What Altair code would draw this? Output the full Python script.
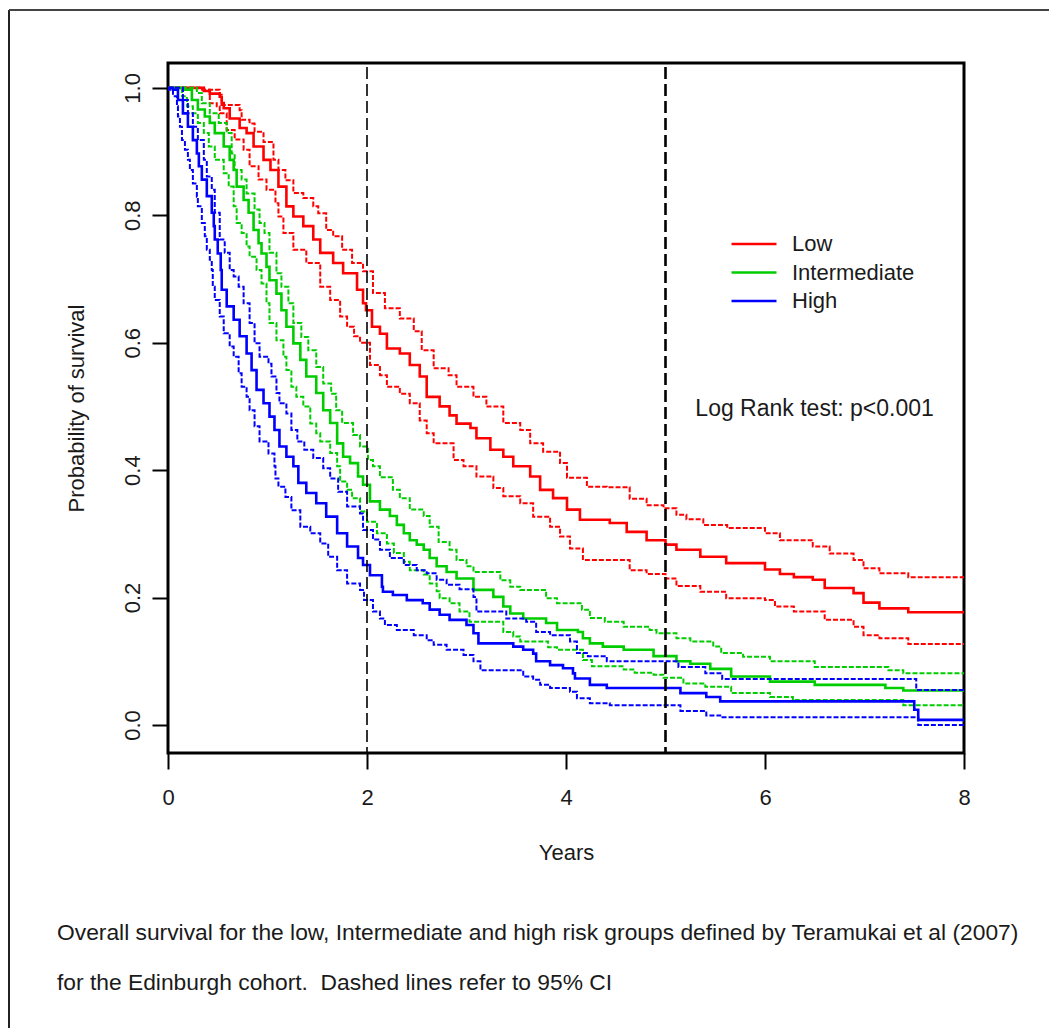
import altair as alt
import pandas as pd

GROUPS = ["Low", "Intermediate", "High"]
COLORS = ["#ff0000", "#00cd00", "#0000ff"]
X_TICKS = [0, 2, 4, 6, 8]
Y_TICKS = [0.0, 0.2, 0.4, 0.6, 0.8, 1.0]
CUTOFFS = [2, 5]

# [years, survival] step points
LOW_EST = [[0,1.0],[0.36,0.995],[0.42,0.991],[0.52,0.986],[0.54,0.976],[0.56,0.968],[0.62,0.952],[0.72,0.937],[0.79,0.929],[0.86,0.908],[0.96,0.887],[1.03,0.871],[1.11,0.845],[1.19,0.814],[1.26,0.798],[1.36,0.783],[1.46,0.762],[1.53,0.741],[1.66,0.725],[1.76,0.709],[1.90,0.683],[1.96,0.662],[1.99,0.651],[2.05,0.625],[2.13,0.614],[2.20,0.591],[2.33,0.583],[2.43,0.565],[2.53,0.547],[2.60,0.515],[2.73,0.500],[2.83,0.486],[2.90,0.473],[3.04,0.466],[3.10,0.450],[3.24,0.432],[3.37,0.421],[3.47,0.406],[3.64,0.390],[3.74,0.369],[3.87,0.356],[4.01,0.338],[4.14,0.322],[4.44,0.317],[4.61,0.303],[4.81,0.290],[5.0,0.283],[5.11,0.275],[5.35,0.264],[5.61,0.254],[6.0,0.244],[6.15,0.237],[6.29,0.232],[6.48,0.228],[6.60,0.215],[6.89,0.207],[6.99,0.192],[7.15,0.183],[7.44,0.177],[8.0,0.177]]
LOW_UP = [[0,1.0],[0.36,0.997],[0.52,0.989],[0.54,0.973],[0.72,0.965],[0.74,0.950],[0.82,0.944],[0.87,0.931],[0.96,0.915],[1.06,0.887],[1.11,0.871],[1.18,0.855],[1.26,0.835],[1.36,0.827],[1.46,0.814],[1.51,0.803],[1.59,0.777],[1.66,0.767],[1.75,0.746],[1.85,0.725],[1.96,0.712],[2.06,0.678],[2.18,0.654],[2.33,0.638],[2.47,0.618],[2.55,0.588],[2.67,0.560],[2.82,0.549],[2.90,0.531],[3.07,0.515],[3.20,0.500],[3.37,0.474],[3.54,0.463],[3.64,0.442],[3.77,0.429],[3.94,0.411],[4.01,0.388],[4.21,0.374],[4.41,0.373],[4.64,0.355],[4.81,0.345],[4.98,0.340],[5.11,0.330],[5.21,0.323],[5.38,0.314],[5.62,0.309],[6.0,0.301],[6.15,0.290],[6.48,0.280],[6.65,0.269],[6.89,0.259],[6.99,0.246],[7.15,0.238],[7.44,0.232],[8.0,0.232]]
LOW_LO = [[0,1.0],[0.32,0.997],[0.42,0.976],[0.49,0.971],[0.52,0.960],[0.59,0.934],[0.67,0.919],[0.76,0.903],[0.82,0.877],[0.91,0.856],[0.99,0.840],[1.08,0.819],[1.11,0.798],[1.16,0.772],[1.26,0.746],[1.39,0.725],[1.53,0.688],[1.63,0.667],[1.73,0.641],[1.80,0.625],[1.87,0.610],[1.93,0.600],[2.03,0.565],[2.13,0.549],[2.20,0.531],[2.33,0.520],[2.43,0.505],[2.53,0.478],[2.60,0.458],[2.67,0.442],[2.87,0.416],[2.97,0.406],[3.10,0.390],[3.27,0.372],[3.37,0.359],[3.54,0.348],[3.67,0.327],[3.84,0.311],[3.94,0.296],[4.04,0.277],[4.17,0.259],[4.41,0.259],[4.64,0.243],[4.81,0.237],[5.0,0.230],[5.11,0.218],[5.35,0.209],[5.61,0.199],[6.0,0.196],[6.1,0.186],[6.29,0.178],[6.6,0.165],[6.89,0.154],[6.99,0.141],[7.15,0.136],[7.44,0.127],[8.0,0.127]]

INT_EST = [[0,1.0],[0.17,0.997],[0.24,0.981],[0.30,0.966],[0.37,0.955],[0.42,0.945],[0.47,0.929],[0.56,0.908],[0.62,0.887],[0.66,0.871],[0.69,0.845],[0.76,0.824],[0.81,0.804],[0.86,0.777],[0.91,0.756],[0.94,0.740],[0.99,0.719],[1.02,0.698],[1.09,0.677],[1.14,0.651],[1.19,0.625],[1.26,0.599],[1.33,0.573],[1.39,0.547],[1.49,0.521],[1.56,0.494],[1.63,0.474],[1.70,0.442],[1.76,0.421],[1.83,0.411],[1.91,0.390],[1.96,0.377],[2.03,0.351],[2.13,0.338],[2.23,0.328],[2.30,0.314],[2.37,0.301],[2.43,0.290],[2.50,0.283],[2.57,0.275],[2.63,0.262],[2.70,0.249],[2.80,0.240],[2.90,0.230],[3.07,0.212],[3.27,0.201],[3.37,0.186],[3.44,0.175],[3.57,0.167],[3.80,0.160],[3.91,0.149],[4.12,0.146],[4.17,0.136],[4.24,0.128],[4.37,0.123],[4.58,0.118],[4.88,0.108],[5.11,0.100],[5.25,0.096],[5.45,0.088],[5.66,0.076],[6.05,0.068],[6.5,0.063],[7.21,0.058],[7.39,0.054],[8.0,0.054]]
INT_UP = [[0,1.0],[0.17,1.0],[0.29,0.992],[0.34,0.976],[0.42,0.960],[0.51,0.945],[0.59,0.929],[0.64,0.897],[0.67,0.871],[0.74,0.856],[0.79,0.834],[0.87,0.809],[0.92,0.788],[0.97,0.772],[1.02,0.741],[1.09,0.709],[1.14,0.688],[1.21,0.662],[1.26,0.631],[1.34,0.609],[1.41,0.588],[1.49,0.562],[1.56,0.536],[1.64,0.520],[1.69,0.494],[1.75,0.474],[1.86,0.455],[1.93,0.437],[2.01,0.416],[2.06,0.406],[2.13,0.389],[2.26,0.369],[2.33,0.356],[2.43,0.338],[2.57,0.328],[2.63,0.311],[2.72,0.287],[2.83,0.275],[2.90,0.259],[3.0,0.249],[3.07,0.240],[3.34,0.227],[3.44,0.217],[3.54,0.212],[3.80,0.199],[3.91,0.191],[4.16,0.181],[4.24,0.168],[4.39,0.162],[4.58,0.154],[4.84,0.149],[4.91,0.144],[5.11,0.136],[5.25,0.131],[5.48,0.123],[5.56,0.113],[5.78,0.107],[6.05,0.100],[6.5,0.091],[7.24,0.086],[7.39,0.081],[8.0,0.081]]
INT_LO = [[0,1.0],[0.10,1.0],[0.14,0.987],[0.19,0.971],[0.25,0.960],[0.30,0.945],[0.36,0.929],[0.41,0.908],[0.47,0.887],[0.56,0.866],[0.61,0.845],[0.66,0.814],[0.69,0.788],[0.74,0.772],[0.79,0.751],[0.82,0.735],[0.89,0.714],[0.94,0.693],[0.99,0.662],[1.02,0.631],[1.09,0.604],[1.16,0.578],[1.19,0.557],[1.24,0.531],[1.29,0.515],[1.36,0.500],[1.43,0.473],[1.49,0.458],[1.53,0.445],[1.63,0.427],[1.70,0.406],[1.73,0.382],[1.80,0.369],[1.85,0.356],[1.93,0.335],[2.0,0.319],[2.10,0.301],[2.20,0.285],[2.27,0.270],[2.37,0.256],[2.43,0.243],[2.57,0.236],[2.63,0.222],[2.70,0.210],[2.73,0.199],[2.83,0.191],[2.93,0.178],[3.03,0.162],[3.37,0.146],[3.47,0.139],[3.54,0.131],[3.82,0.122],[3.91,0.118],[4.17,0.102],[4.26,0.092],[4.58,0.087],[4.69,0.082],[4.88,0.079],[4.98,0.074],[5.18,0.065],[5.4,0.060],[5.66,0.050],[6.05,0.044],[6.28,0.039],[7.39,0.031],[8.0,0.031]]

HIGH_EST = [[0,1.0],[0.05,0.997],[0.10,0.981],[0.15,0.960],[0.20,0.939],[0.25,0.918],[0.29,0.897],[0.31,0.877],[0.34,0.856],[0.39,0.830],[0.44,0.804],[0.46,0.783],[0.47,0.762],[0.50,0.740],[0.53,0.714],[0.54,0.683],[0.59,0.657],[0.66,0.636],[0.72,0.610],[0.79,0.583],[0.84,0.557],[0.89,0.526],[0.96,0.505],[1.02,0.484],[1.07,0.463],[1.12,0.437],[1.19,0.421],[1.26,0.406],[1.31,0.380],[1.39,0.364],[1.49,0.348],[1.59,0.327],[1.70,0.301],[1.80,0.280],[1.91,0.262],[1.96,0.251],[2.03,0.235],[2.15,0.217],[2.16,0.209],[2.26,0.204],[2.40,0.196],[2.56,0.191],[2.63,0.181],[2.73,0.173],[2.83,0.165],[3.0,0.157],[3.07,0.144],[3.12,0.128],[3.47,0.123],[3.57,0.118],[3.67,0.112],[3.70,0.100],[3.84,0.094],[3.97,0.089],[4.07,0.081],[4.09,0.073],[4.24,0.063],[4.41,0.058],[5.15,0.050],[5.41,0.044],[5.55,0.037],[7.50,0.024],[7.54,0.008],[8.0,0.008]]
HIGH_UP = [[0,1.0],[0.09,1.0],[0.15,0.981],[0.20,0.960],[0.25,0.939],[0.30,0.918],[0.36,0.887],[0.39,0.861],[0.44,0.840],[0.47,0.804],[0.52,0.762],[0.57,0.741],[0.62,0.714],[0.66,0.704],[0.71,0.688],[0.76,0.662],[0.82,0.631],[0.87,0.599],[0.92,0.578],[1.01,0.567],[1.04,0.547],[1.09,0.521],[1.12,0.505],[1.19,0.489],[1.24,0.463],[1.30,0.445],[1.37,0.432],[1.46,0.419],[1.56,0.403],[1.63,0.387],[1.71,0.366],[1.80,0.343],[1.93,0.332],[1.96,0.306],[2.06,0.291],[2.13,0.275],[2.23,0.262],[2.37,0.251],[2.50,0.243],[2.60,0.238],[2.70,0.228],[2.80,0.220],[2.93,0.213],[3.07,0.201],[3.10,0.178],[3.40,0.167],[3.60,0.162],[3.70,0.146],[3.84,0.141],[4.04,0.131],[4.11,0.113],[4.22,0.108],[4.41,0.100],[5.13,0.091],[5.40,0.081],[5.57,0.072],[7.52,0.055],[8.0,0.055]]
HIGH_LO = [[0,1.0],[0.01,0.997],[0.05,0.987],[0.09,0.971],[0.10,0.955],[0.12,0.939],[0.14,0.918],[0.17,0.903],[0.20,0.887],[0.22,0.871],[0.25,0.850],[0.29,0.829],[0.30,0.814],[0.34,0.788],[0.37,0.767],[0.39,0.746],[0.42,0.730],[0.44,0.714],[0.45,0.688],[0.47,0.667],[0.52,0.641],[0.56,0.615],[0.62,0.594],[0.66,0.578],[0.71,0.552],[0.74,0.531],[0.79,0.515],[0.82,0.494],[0.87,0.469],[0.92,0.445],[1.01,0.426],[1.07,0.406],[1.08,0.387],[1.11,0.374],[1.18,0.358],[1.24,0.337],[1.33,0.311],[1.43,0.301],[1.53,0.285],[1.61,0.264],[1.70,0.243],[1.80,0.222],[1.93,0.212],[1.97,0.196],[2.06,0.178],[2.13,0.167],[2.18,0.157],[2.30,0.149],[2.47,0.141],[2.60,0.133],[2.67,0.126],[2.80,0.118],[2.97,0.110],[3.07,0.100],[3.14,0.086],[3.57,0.076],[3.67,0.071],[3.74,0.063],[3.84,0.058],[4.04,0.052],[4.11,0.042],[4.24,0.034],[4.44,0.031],[5.15,0.022],[5.41,0.015],[5.55,0.012],[7.54,0.0],[8.0,0.0]]

LOG_RANK = "Log Rank test: p<0.001"
CAPTION_1 = "Overall survival for the low, Intermediate and high risk groups defined by Teramukai et al (2007)"
CAPTION_2 = "for the Edinburgh cohort.\u00a0 Dashed lines refer to 95% CI"

FONT = "Liberation Sans"
TXT = "#1a1a1a"


def to_df(rows, group, kind):
    return pd.DataFrame({
        "t": [r[0] for r in rows],
        "s": [r[1] for r in rows],
        "group": group,
        "kind": kind,
        "line": f"{group}-{kind}",
    })


SERIES = [
    ("Low", LOW_EST, LOW_UP, LOW_LO),
    ("Intermediate", INT_EST, INT_UP, INT_LO),
    ("High", HIGH_EST, HIGH_UP, HIGH_LO),
]

W, H = 796, 690

x_enc = alt.X(
    "t:Q",
    scale=alt.Scale(domain=[0, 8], nice=False, zero=False),
    axis=alt.Axis(
        values=X_TICKS, format="d", title="Years", grid=False, domain=False,
        tickSize=16, tickWidth=2, tickColor="black", labelPadding=18, labelFlush=False,
        labelFontSize=22, labelFont=FONT, labelColor=TXT,
        titleFontSize=22, titleFont=FONT, titleColor=TXT, titleFontWeight="normal",
        titleY=99, titleBaseline="middle",
    ),
)
y_enc = alt.Y(
    "s:Q",
    scale=alt.Scale(domain=[-0.044, 1.039], nice=False, zero=False),
    axis=alt.Axis(
        values=Y_TICKS, format=".1f", title="Probability of survival", grid=False, domain=False,
        tickSize=16, tickWidth=2, tickColor="black", labelPadding=8, labelFlush=False,
        labelAngle=-90, labelAlign="center", labelBaseline="bottom",
        labelFontSize=22, labelFont=FONT, labelColor=TXT,
        titleFontSize=22, titleFont=FONT, titleColor=TXT, titleFontWeight="normal",
        titleX=-92, titleY=H / 2, titleAngle=-90, titleAlign="center", titleBaseline="middle",
    ),
)
color_scale = alt.Scale(domain=GROUPS, range=COLORS)
legend = alt.Legend(
    title=None, orient="none", legendX=562, legendY=168,
    symbolType="M-2,0L2,0", symbolSize=506, symbolStrokeWidth=2.6,
    symbolOffset=11,
    labelFontSize=22, labelFont=FONT, labelColor=TXT, labelOffset=25,
    rowPadding=4.5, padding=0,
)
color_enc = alt.Color("group:N", scale=color_scale, legend=legend)

layers = []
for group, est, up, lo in SERIES:
    ci_df = pd.concat([to_df(up, group, "upper"), to_df(lo, group, "lower")])
    layers.append(
        alt.Chart(ci_df).mark_line(interpolate="step-after", strokeWidth=2, strokeDash=[5, 2], clip=True)
        .encode(x=x_enc, y=y_enc, color=color_enc, detail="line:N")
    )
    layers.append(
        alt.Chart(to_df(est, group, "est")).mark_line(interpolate="step-after", strokeWidth=2.6, clip=True)
        .encode(x=x_enc, y=y_enc, color=color_enc)
    )

cut_df = pd.DataFrame({"x": CUTOFFS})
cut2 = alt.Chart(cut_df[cut_df.x == 2]).mark_rule(color="black", strokeWidth=1.6, strokeDash=[12, 5]).encode(
    x=alt.X("x:Q"), y=alt.value(4), y2=alt.value(H))
cut5 = alt.Chart(cut_df[cut_df.x == 5]).mark_rule(color="black", strokeWidth=2.6, strokeDash=[12, 5]).encode(
    x=alt.X("x:Q"), y=alt.value(4), y2=alt.value(H))

one = pd.DataFrame({"a": [0]})
logrank = alt.Chart(one).mark_text(align="left", baseline="middle", fontSize=23, font=FONT, color=TXT).encode(
    x=alt.datum(5.3), y=alt.datum(0.496), text=alt.value(LOG_RANK))
cap1 = alt.Chart(one).mark_text(align="left", baseline="middle", fontSize=22.8, font=FONT, color=TXT).encode(
    x=alt.value(-111), y=alt.value(870), text=alt.value(CAPTION_1))
cap2 = alt.Chart(one).mark_text(align="left", baseline="middle", fontSize=22.8, font=FONT, color=TXT).encode(
    x=alt.value(-111), y=alt.value(920), text=alt.value(CAPTION_2))

frame_left = alt.Chart(one).mark_rule(color="#222", strokeWidth=2).encode(
    x=alt.value(-159), x2=alt.value(-159), y=alt.value(-53), y2=alt.value(975))
frame_top = alt.Chart(one).mark_rule(color="#444", strokeWidth=2).encode(
    x=alt.value(-159), x2=alt.value(890), y=alt.value(-53), y2=alt.value(-53))

chart = alt.layer(
    frame_left, frame_top, *layers, cut2, cut5, logrank, cap1, cap2
).properties(
    width=W, height=H,
    autosize=alt.AutoSizeParams(type="none"),
    padding={"left": 160, "top": 55, "right": 85, "bottom": 275},
).configure(background="white").configure_view(stroke="black", strokeWidth=3)

chart.save("out.html", embed_options={"renderer": "svg", "actions": False})
